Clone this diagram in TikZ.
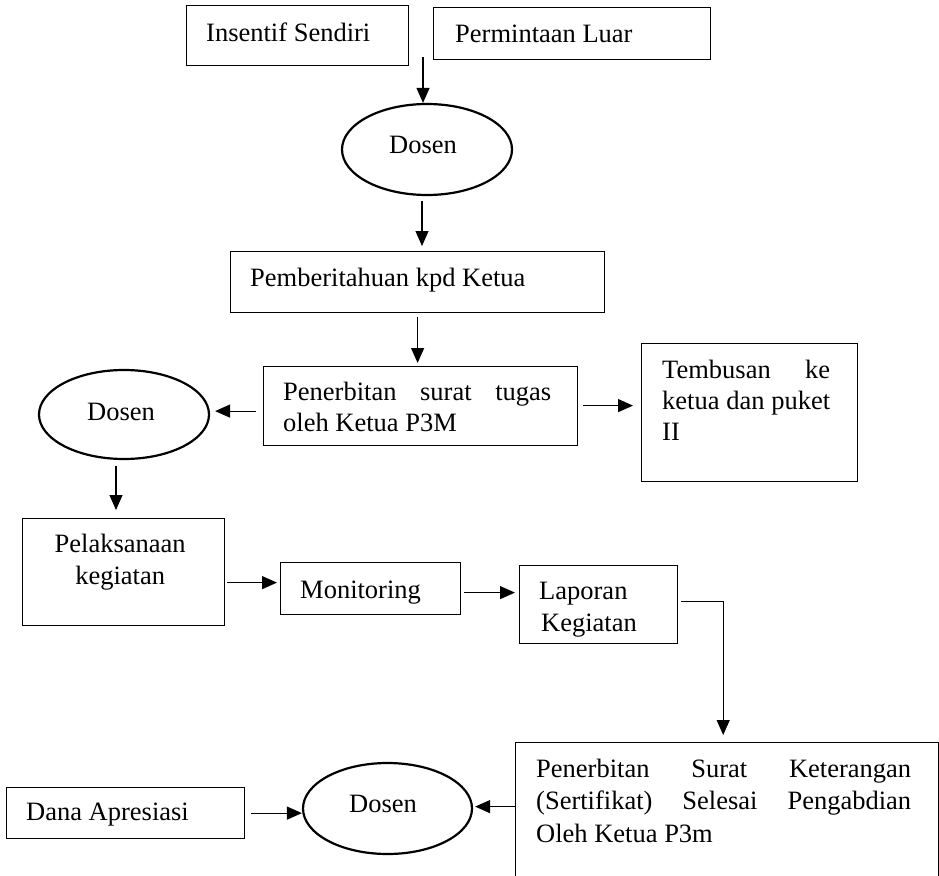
\documentclass[tikz,border=0pt]{standalone}
\usepackage{fontspec}
\setmainfont{Liberation Serif}
\usetikzlibrary{arrows.meta,calc,shapes.geometric}
\tikzset{
  box/.style={draw, line width=1.2pt, rectangle, inner sep=0pt, anchor=north west},
  ell/.style={draw, line width=2.2pt, ellipse, inner sep=0pt},
  txt/.style={inner sep=0pt, anchor=base west, font=\fontsize{26.5}{31}\selectfont},
  arr/.style={line width=1.2pt, -{Triangle[length=15pt,width=13pt]}}
}
\begin{document}
\begin{tikzpicture}[x=1pt,y=-1pt]
\useasboundingbox (0,0) rectangle (939,875);
\clip (0,0) rectangle (939,875);

% sources
\node[box, minimum width=222, minimum height=60] (ins) at (186,5) {};
\node[txt] at (206,42) {Insentif Sendiri};
\node[box, minimum width=277, minimum height=52] (per) at (433,7) {};
\node[txt] at (455,43) {Permintaan Luar};

% first lecturer
\node[ell, minimum width=170, minimum height=91] (d1) at (427,149.5) {};
\node[txt, anchor=base] at (423,153) {Dosen};

% notification
\node[box, minimum width=374, minimum height=61] (pb) at (230,251) {};
\node[txt] at (250,286) {Pemberitahuan kpd Ketua};

% assignment letter
\node[box, minimum width=314, minimum height=79] (pn) at (263,366) {};
\node[txt, text width=268, align=justify] at (283,400) {Penerbitan surat tugas\linebreak oleh Ketua P3M};

% copy to leaders
\node[box, minimum width=216, minimum height=138] (tb) at (641,343) {};
\node[txt, text width=168, align=justify] at (662,378) {Tembusan ke\linebreak ketua dan puket\linebreak II};

% second lecturer
\node[ell, minimum width=170, minimum height=89] (d2) at (124,414.5) {};
\node[txt, anchor=base] at (121,420) {Dosen};

% execution
\node[box, minimum width=202, minimum height=107] (pl) at (22,518) {};
\node[txt, text width=202, align=center] at (19,552) {Pelaksanaan\\[1pt]kegiatan};

\node[box, minimum width=180, minimum height=52] (mo) at (280,562) {};
\node[txt] at (300,598) {Monitoring};

\node[box, minimum width=158, minimum height=78] (lp) at (519,565) {};
\node[txt] at (539,599) {Laporan};
\node[txt] at (541,631) {Kegiatan};

% certificate
\node[box, minimum width=423, minimum height=160] (sk) at (515,742) {};
\node[txt, text width=375, align=justify, font=\fontsize{26.5}{32.5}\selectfont] at (536,777)
  {Penerbitan Surat Keterangan\linebreak (Sertifikat) Selesai Pengabdian\linebreak Oleh Ketua P3m};

% third lecturer and appreciation
\node[ell, minimum width=169, minimum height=91] (d3) at (387.5,808.5) {};
\node[txt, anchor=base] at (383,812) {Dosen};
\node[box, minimum width=238, minimum height=51] (dn) at (6,787) {};
\node[txt] at (26,820) {Dana Apresiasi};

% connectors
\coordinate (a1) at ($(per.south west)+(-10,-3)$);
\draw[arr] (a1) -- (a1 |- d1.north);
\coordinate (a2) at ($(d1.south)+(-5,5)$);
\draw[arr] (a2) -- ($(a2 |- pb.north)+(0,-5)$);
\coordinate (a3) at ($(pb.south)+(0,4)$);
\draw[arr] (a3) -- ($(a3 |- pn.north)+(0,-3)$);
\coordinate (a4) at ($(pn.west)+(-7,5)$);
\draw[arr] (a4) -- ($(a4 -| d2.east)+(5,0)$);
\coordinate (a5) at ($(pn.east)+(5,-0.5)$);
\draw[arr] (a5) -- ($(a5 -| tb.west)+(-8,0)$);
\coordinate (a6) at ($(d2.south)+(-8,6)$);
\draw[arr] (a6) -- ($(a6 |- pl.north)+(0,-8)$);
\coordinate (a7) at ($(pl.east)+(2,10.5)$);
\draw[arr] (a7) -- ($(a7 -| mo.west)+(-3,0)$);
\coordinate (a8) at ($(mo.east)+(3,4)$);
\draw[arr] (a8) -- ($(a8 -| lp.west)+(-4,0)$);
\coordinate (a9) at ($(lp.east)+(3,-3)$);
\coordinate (bend) at ($(a9)+(42,0)$);
\draw[arr] (a9) -- (bend) -- ($(bend |- sk.north)+(0,-7)$);
\coordinate (a10) at ($(sk.west)+(0,-16)$);
\draw[arr] (a10) -- ($(a10 -| d3.east)+(2,0)$);
\coordinate (a11) at ($(dn.east)+(6,0)$);
\draw[arr] (a11) -- (a11 -| d3.west);
\end{tikzpicture}
\end{document}
